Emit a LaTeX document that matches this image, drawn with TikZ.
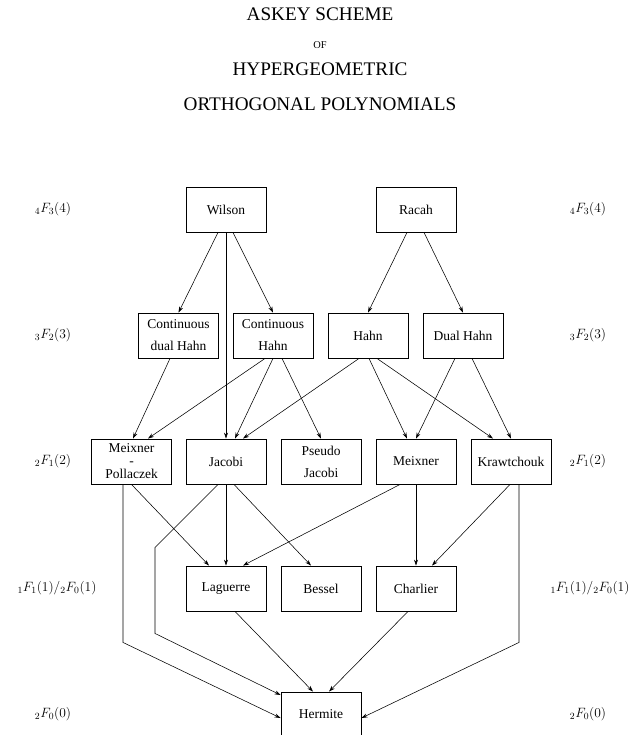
\RequirePackage{fix-cm}
\documentclass[tikz,border=0pt]{standalone}
\usepackage[no-math]{fontspec}
\setmainfont{Liberation Serif}
\usepackage{tikz}
\usetikzlibrary{arrows.meta,positioning}
\tikzset{
    %Define standard arrow tip
    >={Stealth[length=6pt,width=4pt]},
    %Define style for boxes
    poly/.style={
           rectangle,
           draw=black, line width=0.9pt,
           minimum width=80pt,
           minimum height=45pt,
           align=center,
           font=\fontsize{13.5}{16}\selectfont,
           text centered},
    %Define style for the level labels
    hyp/.style={
           font=\fontsize{13.5}{16}\selectfont},
    heading/.style={
           anchor=base,
           font=\fontsize{19.2}{22}\selectfont},
    % Define arrow style
    link/.style={
           ->,
           line width=0.55pt}
}
\begin{document}
\begin{tikzpicture}[x=1pt,y=-1pt]
\useasboundingbox (0,0) rectangle (630,735);

 %title
\node[heading] (t1) at (320,21) {ASKEY SCHEME};
\node[heading, font=\fontsize{10.4}{12}\selectfont] (t2) at (320,49) {OF};
\node[heading] (t3) at (320,76) {HYPERGEOMETRIC};
\node[heading] (t4) at (320,111) {ORTHOGONAL POLYNOMIALS};

 %level labels
\node[hyp] (l4) at (53,209.5) {$_4F_3(4)$};
\node[hyp] (r4) at (588,209.5) {$_4F_3(4)$};
\node[hyp] (l3) at (53,335.5) {$_3F_2(3)$};
\node[hyp] (r3) at (588,335.5) {$_3F_2(3)$};
\node[hyp] (l2) at (53,461.5) {$_2F_1(2)$};
\node[hyp] (r2) at (588,461.5) {$_2F_1(2)$};
\node[hyp] (l1) at (57,588.5) {$_1F_1(1)/_2F_0(1)$};
\node[hyp] (r1) at (590,588.5) {$_1F_1(1)/_2F_0(1)$};
\node[hyp] (l0) at (53,714.5) {$_2F_0(0)$};
\node[hyp] (r0) at (588,714.5) {$_2F_0(0)$};

 %nodes
\node[poly] (wilson) at (226,209.5) {Wilson};
\node[poly] (racah) at (416,209.5) {Racah};
\node[poly] (cdhahn) at (178.5,335.5) {Continuous\\[6pt]dual Hahn};
\node[poly] (chahn) at (273,335.5) {Continuous\\[6pt]Hahn};
\node[poly] (hahn) at (368,335.5) {Hahn};
\node[poly] (dhahn) at (463,335.5) {Dual Hahn};
\node[poly] (mpoll) at (131.5,461.5) {Meixner\\[-3pt]-\\[-3pt]Pollaczek};
\node[poly] (jacobi) at (226,461.5) {Jacobi};
\node[poly] (pjacobi) at (321,461.5) {Pseudo\\[6pt]Jacobi};
\node[poly] (meixner) at (416,461.5) {Meixner};
\node[poly] (kraw) at (511,461.5) {Krawtchouk};
\node[poly] (laguerre) at (226,588.5) {Laguerre};
\node[poly] (bessel) at (321,588.5) {Bessel};
\node[poly] (charlier) at (416,588.5) {Charlier};
\node[poly] (hermite) at (321,714.5) {Hermite};

 %edges
\draw[link] ([xshift=-8pt]wilson.south) -- (cdhahn.north);
\draw[link] (wilson.south) -- (jacobi.north);
\draw[link] ([xshift=7pt]wilson.south) -- (chahn.north);
\draw[link] ([xshift=-9pt]racah.south) -- (hahn.north);
\draw[link] ([xshift=8pt]racah.south) -- (dhahn.north);

\draw[link] ([xshift=-8.5pt]cdhahn.south) -- ([xshift=1.5pt]mpoll.north);
\draw[link] ([xshift=-8pt]chahn.south) -- ([xshift=16.5pt]mpoll.north);
\draw[link] (chahn.south) -- ([xshift=9pt]jacobi.north);
\draw[link] ([xshift=9pt]chahn.south) -- (pjacobi.north);
\draw[link] ([xshift=-9pt]hahn.south) -- ([xshift=17pt]jacobi.north);
\draw[link] ([xshift=1pt]hahn.south) -- ([xshift=-9pt]meixner.north);
\draw[link] ([xshift=9pt]hahn.south) -- ([xshift=-18pt]kraw.north);
\draw[link] ([xshift=-8pt]dhahn.south) -- (meixner.north);
\draw[link] ([xshift=9pt]dhahn.south) -- (kraw.north);

\draw[link] (mpoll.south) -- ([xshift=-17pt]laguerre.north);
\draw[link] (jacobi.south) -- (laguerre.north);
\draw[link] ([xshift=8pt]jacobi.south) -- ([xshift=-10pt]bessel.north);
\draw[link] ([xshift=-16pt]meixner.south) -- ([xshift=17pt]laguerre.north);
\draw[link] (meixner.south) -- (charlier.north);
\draw[link] ([xshift=-1pt]kraw.south) -- ([xshift=16pt]charlier.north);

\draw[link] ([xshift=-8.5pt]mpoll.south) -- ++(0,158) -- ([yshift=-3.5pt]hermite.west);
\draw[link] ([xshift=-8pt]jacobi.south) -- ++(-63,63) -- ++(0,86) -- ([yshift=19.5pt]hermite.west);
\draw[link] ([xshift=9pt]laguerre.south) -- ([xshift=-8pt]hermite.north);
\draw[link] ([xshift=-8pt]charlier.south) -- ([xshift=8pt]hermite.north);
\draw[link] ([xshift=8pt]kraw.south) -- ++(0,158) -- ([yshift=-3.5pt]hermite.east);
\end{tikzpicture}
\end{document}
